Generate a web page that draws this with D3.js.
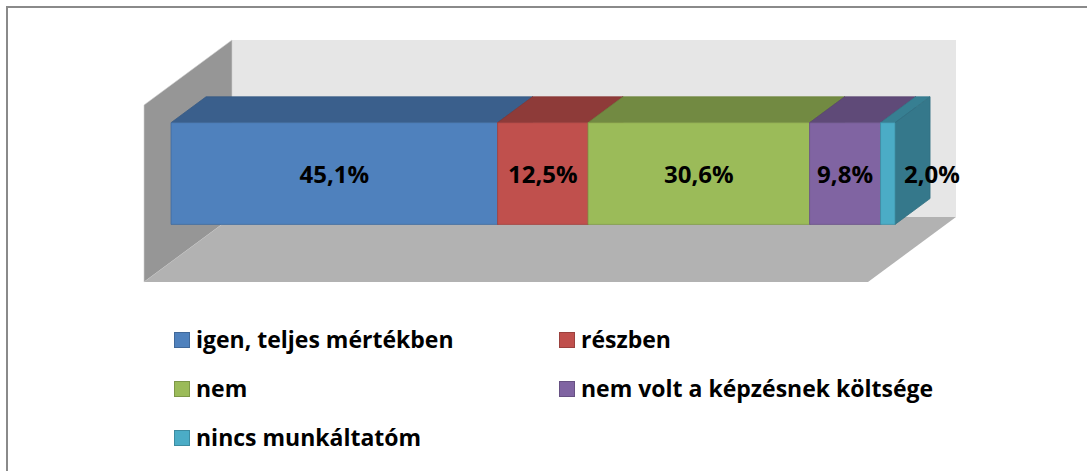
<!DOCTYPE html>
<html>
<head>
<meta charset="utf-8">
<script src="https://cdn.jsdelivr.net/npm/d3@7"></script>
<style>
    html, body { margin: 0; padding: 0; background: #fff; }
    svg { display: block; font-family: "Open Sans", Lato, sans-serif; }
</style>
</head>
<body>
<svg id="canvas" width="1087" height="471"></svg>
<script>
// data
const categories = ['igen, teljes mértékben', 'részben', 'nem', 'nem volt a képzésnek költsége', 'nincs munkáltatóm'];
const values = [45.1, 12.5, 30.6, 9.8, 2.0];
const colors = ['#4F81BD', '#C0504D', '#9BBB59', '#8064A2', '#4BACC6'];

const svg = d3.select('#canvas');
const fmt = v => d3.format('.1f')(v).replace('.', ',') + '%';

// 3d box: front plane + depth vector
const depth = { dx: 88, dy: -65 };
const x = d3.scaleLinear().domain([0, 100]).range([144, 868]);
const y = d3.scaleBand().domain(['']).range([105, 282]).padding(0.27);
const barD0 = 0.307, barD1 = 0.705;

const proj = (px, py, d) => [px + d * depth.dx, py + d * depth.dy];
const poly = pts => 'M' + pts.map(p => p.join(',')).join('L') + 'Z';

// outer border
svg.append('rect')
    .attr('x', 7).attr('y', 7)
    .attr('width', 1100).attr('height', 500)
    .attr('fill', 'none')
    .attr('stroke', '#8a8a8a')
    .attr('stroke-width', 2);

// walls
const [wx0, wx1] = x.range();
const [wy0, wy1] = y.range();
const walls = svg.append('g').attr('class', 'walls');
walls.append('path') // back wall
    .attr('d', poly([proj(wx0, wy0, 1), proj(wx1, wy0, 1), proj(wx1, wy1, 1), proj(wx0, wy1, 1)]))
    .attr('fill', '#E6E6E6');
walls.append('path') // side wall
    .attr('d', poly([proj(wx0, wy0, 0), proj(wx0, wy0, 1), proj(wx0, wy1, 1), proj(wx0, wy1, 0)]))
    .attr('fill', '#969696')
    .attr('stroke', '#d0d0d0').attr('stroke-width', 0.6);
walls.append('path') // floor
    .attr('d', poly([proj(wx0, wy1, 0), proj(wx0, wy1, 1), proj(wx1, wy1, 1), proj(wx1, wy1, 0)]))
    .attr('fill', '#B2B2B2');

// stacked segments
let acc = 0;
const segs = values.map((v, i) => {
    const s = { name: categories[i], value: v, color: colors[i], x0: acc, x1: acc + v };
    acc += v;
    return s;
});

const yt = y(''), yb = y('') + y.bandwidth();
const seg = svg.append('g').selectAll('g.seg')
    .data(segs)
    .join('g')
    .attr('class', 'seg');

seg.append('path') // top
    .attr('d', d => poly([proj(x(d.x0), yt, barD0), proj(x(d.x1), yt, barD0), proj(x(d.x1), yt, barD1), proj(x(d.x0), yt, barD1)]))
    .attr('fill', d => d3.color(d.color).darker(0.85))
    .attr('stroke', d => d3.color(d.color).darker(1.0))
    .attr('stroke-width', 0.8);
seg.append('path') // side
    .attr('d', d => poly([proj(x(d.x1), yt, barD0), proj(x(d.x1), yt, barD1), proj(x(d.x1), yb, barD1), proj(x(d.x1), yb, barD0)]))
    .attr('fill', d => d3.color(d.color).darker(1.0))
    .attr('stroke', d => d3.color(d.color).darker(1.2))
    .attr('stroke-width', 0.8);
seg.append('path') // front
    .attr('d', d => poly([proj(x(d.x0), yt, barD0), proj(x(d.x1), yt, barD0), proj(x(d.x1), yb, barD0), proj(x(d.x0), yb, barD0)]))
    .attr('fill', d => d.color)
    .attr('stroke', d => d3.color(d.color).darker(0.5))
    .attr('stroke-width', 0.8);

// value labels, narrow segments get theirs beside the bar
const narrow = d => x(d.x1) - x(d.x0) < 40;
seg.append('text')
    .attr('x', d => narrow(d) ? proj(x(d.x1), 0, barD0)[0] + 9 : proj((x(d.x0) + x(d.x1)) / 2, 0, barD0)[0])
    .attr('y', (yt + yb) / 2 + barD0 * depth.dy + 1)
    .attr('dy', '0.36em')
    .attr('text-anchor', d => narrow(d) ? 'start' : 'middle')
    .attr('font-size', 24)
    .attr('font-weight', 'bold')
    .attr('fill', '#000')
    .text(d => fmt(d.value));

// legend
const legendCols = [174, 559];
const legendRows = [332, 381, 430];
const legend = svg.append('g').selectAll('g.leg')
    .data(segs)
    .join('g')
    .attr('class', 'leg')
    .attr('transform', (d, i) => `translate(${legendCols[i % 2]},${legendRows[Math.floor(i / 2)]})`);

legend.append('rect')
    .attr('x', 0.5).attr('y', 0.5)
    .attr('width', 15).attr('height', 15)
    .attr('fill', d => d.color)
    .attr('stroke', d => d3.color(d.color).darker(0.6))
    .attr('stroke-width', 1);

legend.append('text')
    .attr('x', 22)
    .attr('y', 16)
    .attr('font-size', 23)
    .attr('font-weight', 'bold')
    .attr('fill', '#000')
    .text(d => d.name);
</script>
</body>
</html>
